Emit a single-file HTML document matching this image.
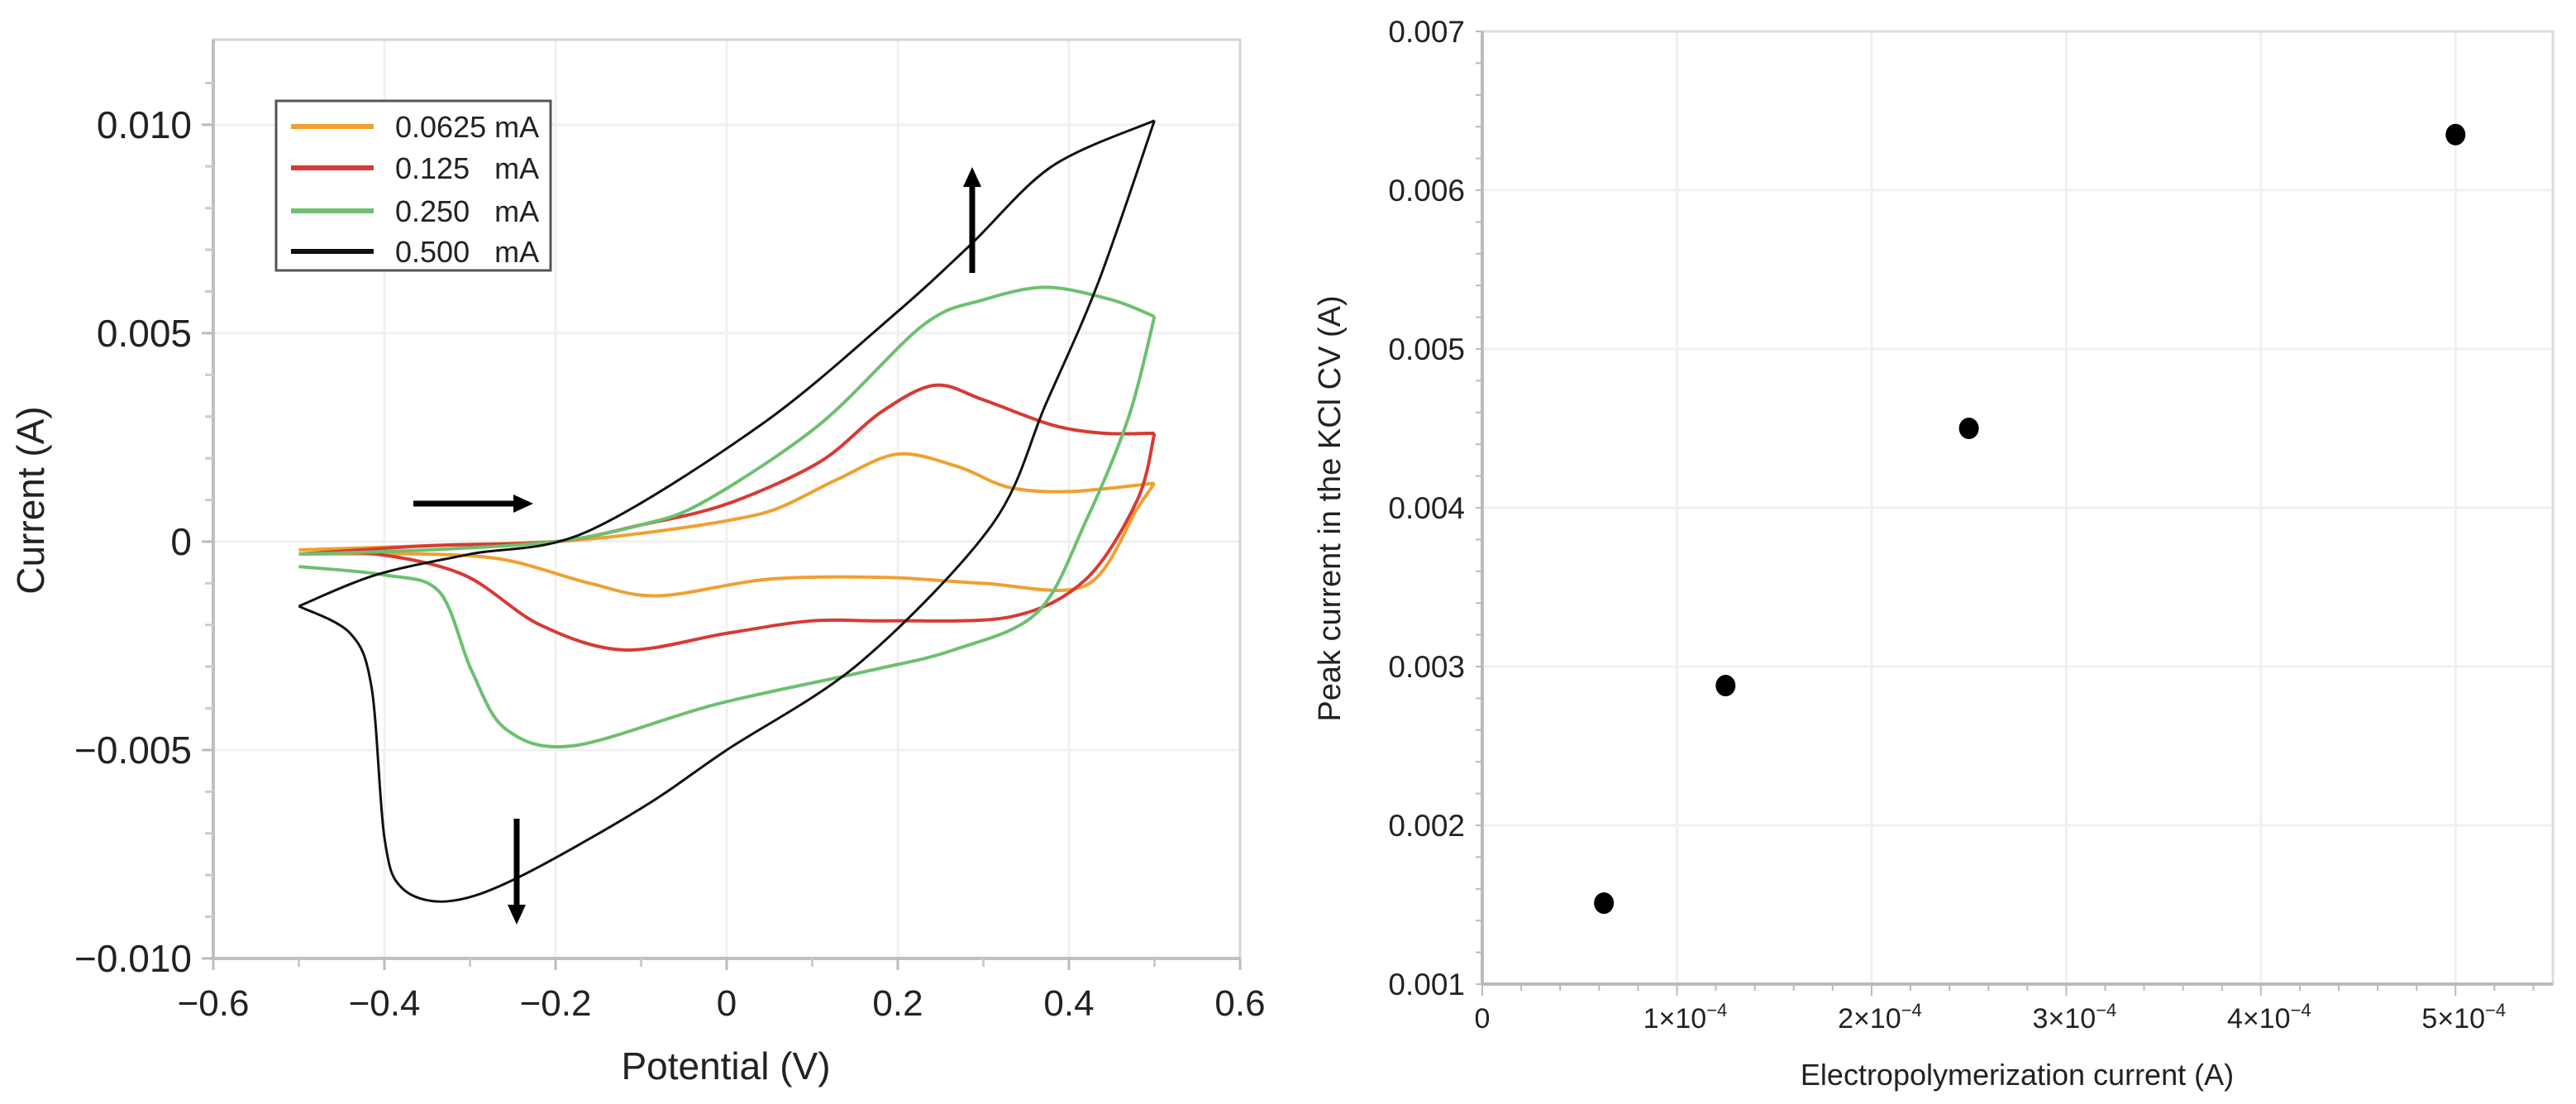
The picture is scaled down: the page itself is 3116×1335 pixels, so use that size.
<!DOCTYPE html>
<html><head><meta charset="utf-8"><style>
html,body{margin:0;padding:0;background:#fff;}
svg{display:block;font-family:"Liberation Sans",Arial,sans-serif;}
</style></head><body>
<svg id="fig" width="3116" height="1335" viewBox="0 0 3116 1335" xmlns="http://www.w3.org/2000/svg">
<g id="left"></g>
<g id="right"></g>
</svg>
<script>
// ---------- Left chart data (Potential V, Current A) ----------
const cvLabels = ["0.0625 mA","0.125   mA","0.250   mA","0.500   mA"];
const cvColors = ["#f0a030","#d83a34","#6cc070","#111111"];
const cvOrangeV = [-0.5,-0.35,-0.2,-0.1,0,0.06,0.13,0.2,0.27,0.33,0.4,0.5,0.48,0.42,0.3,0.186,0.05,-0.08,-0.16,-0.258,-0.35,-0.5];
const cvOrangeI = [-0.0002,-0.0001,0.0,0.0002,0.0005,0.0008,0.0015,0.0021,0.0018,0.0013,0.0012,0.0014,0.0008,-0.00105,-0.0010,-0.00086,-0.0009,-0.0013,-0.001,-0.00044,-0.0003,-0.0003];
const cvRedV = [-0.5,-0.35,-0.2,-0.1,0,0.108,0.18,0.243,0.3,0.38,0.44,0.5,0.48,0.42,0.333,0.19,0.1,0.0,-0.12,-0.218,-0.307,-0.41,-0.5];
const cvRedI = [-0.0003,-0.0001,0.0,0.0004,0.0009,0.0019,0.0031,0.00375,0.0034,0.0028,0.0026,0.0026,0.0010,-0.0009,-0.0018,-0.0019,-0.0019,-0.0022,-0.0026,-0.002,-0.0008,-0.0003,-0.0003];
const cvGreenV = [-0.5,-0.35,-0.2,-0.1,-0.027,0.108,0.23,0.30,0.373,0.45,0.5,0.47,0.42,0.363,0.265,0.166,-0.012,-0.18,-0.258,-0.298,-0.336,-0.40,-0.5];
const cvGreenI = [-0.0003,-0.0002,0.0,0.0004,0.00095,0.0028,0.0052,0.0058,0.0061,0.0058,0.0054,0.0030,0.0005,-0.0017,-0.0026,-0.0031,-0.0039,-0.0049,-0.0045,-0.0031,-0.0012,-0.0008,-0.0006];
const cvBlackV = [-0.5,-0.41,-0.3,-0.163,0.04,0.196,0.284,0.38,0.5,0.434,0.373,0.31,0.156,0.0,-0.1,-0.248,-0.327,-0.38,-0.40,-0.415,-0.44,-0.5];
const cvBlackI = [-0.00155,-0.0008,-0.0003,0.00024,0.0028,0.00545,0.0071,0.009,0.0101,0.0062,0.0033,0.0004,-0.0029,-0.005,-0.0064,-0.0081,-0.00863,-0.0083,-0.0071,-0.0035,-0.0022,-0.00155];
const cvXTicks = [-0.6,-0.4,-0.2,0,0.2,0.4,0.6];
const cvXTickLabels = ["\u22120.6","\u22120.4","\u22120.2","0","0.2","0.4","0.6"];
const cvYTicks = [-0.01,-0.005,0,0.005,0.01];
const cvYTickLabels = ["\u22120.010","\u22120.005","0","0.005","0.010"];

// ---------- Right chart data ----------
const epCurrent = [6.25e-5,1.25e-4,2.5e-4,5e-4];
const peakCurrent = [0.00151,0.00288,0.0045,0.00635];
const rXTicks = [0,1e-4,2e-4,3e-4,4e-4,5e-4];
const rXTickMant = ["0","1","2","3","4","5"];
const rYTicks = [0.001,0.002,0.003,0.004,0.005,0.006,0.007];
const rYTickLabels = ["0.001","0.002","0.003","0.004","0.005","0.006","0.007"];

const NS="http://www.w3.org/2000/svg";
function mk(tag,attrs,parent){const e=document.createElementNS(NS,tag);for(const k in attrs)e.setAttribute(k,attrs[k]);parent.appendChild(e);return e;}

// Left axes
const L={x0:258,x1:1500,y0:48,y1:1159,vmin:-0.6,vmax:0.6,imin:-0.010,imax:0.01204};
function lx(v){return L.x0+(v-L.vmin)/(L.vmax-L.vmin)*(L.x1-L.x0);}
function ly(i){return L.y1-(i-L.imin)/(L.imax-L.imin)*(L.y1-L.y0);}
const gl=document.getElementById('left');
for(let k=0;k<cvXTicks.length;k++){const g=mk('line',{x1:lx(cvXTicks[k]),x2:lx(cvXTicks[k]),y1:L.y0,y2:L.y1,stroke:'#f0f0f0','stroke-width':3},gl);
}
for(let k=0;k<cvYTicks.length;k++){const g=mk('line',{x1:L.x0,x2:L.x1,y1:ly(cvYTicks[k]),y2:ly(cvYTicks[k]),stroke:'#f0f0f0','stroke-width':3},gl);
}
const fr=mk('rect',{x:L.x0,y:L.y0,width:L.x1-L.x0,height:L.y1-L.y0,fill:'none',stroke:'#d4d4d4','stroke-width':3},gl);

const ax1=mk('line',{x1:L.x0,x2:L.x1,y1:L.y1,y2:L.y1,stroke:'#c0c0c0','stroke-width':4},gl);

const ax2=mk('line',{x1:L.x0,x2:L.x0,y1:L.y0,y2:L.y1,stroke:'#c0c0c0','stroke-width':4},gl);

for(let k=0;k<cvXTicks.length;k++){
 const t=mk('text',{x:lx(cvXTicks[k]),y:1228,'text-anchor':'middle','font-size':44,fill:'#222'},gl);t.textContent=cvXTickLabels[k];
 
 const tk=mk('line',{x1:lx(cvXTicks[k]),x2:lx(cvXTicks[k]),y1:L.y1,y2:L.y1+14,stroke:'#bbb','stroke-width':3},gl);
 
 if(k<cvXTicks.length-1){const m=mk('line',{x1:lx(cvXTicks[k]+0.1),x2:lx(cvXTicks[k]+0.1),y1:L.y1,y2:L.y1+10,stroke:'#ccc','stroke-width':3},gl);
 }
}
for(let k=0;k<cvYTicks.length;k++){
 const t=mk('text',{x:232,y:ly(cvYTicks[k])+16,'text-anchor':'end','font-size':46,fill:'#222'},gl);t.textContent=cvYTickLabels[k];
 
 const tk=mk('line',{x1:L.x0-14,x2:L.x0,y1:ly(cvYTicks[k]),y2:ly(cvYTicks[k]),stroke:'#bbb','stroke-width':3},gl);
 
}
for(let v=-0.009;v<0.012;v+=0.001){if(Math.abs(Math.round(v*1000)%5)===0)continue;
 const m=mk('line',{x1:L.x0-10,x2:L.x0,y1:ly(v),y2:ly(v),stroke:'#ccc','stroke-width':3},gl);
 }
const xt=mk('text',{x:878,y:1305,'text-anchor':'middle','font-size':46,fill:'#222'},gl);xt.textContent='Potential (V)';

const yt=mk('text',{x:0,y:0,transform:'translate(53,605) rotate(-90)','text-anchor':'middle','font-size':46,fill:'#222'},gl);yt.textContent='Current (A)';


function smooth(pts){let d='M'+pts[0][0]+','+pts[0][1];
 for(let i=0;i<pts.length-1;i++){const p0=pts[Math.max(0,i-1)],p1=pts[i],p2=pts[i+1],p3=pts[Math.min(pts.length-1,i+2)];
  const t=0.16;const c1=[p1[0]+(p2[0]-p0[0])*t,p1[1]+(p2[1]-p0[1])*t],c2=[p2[0]-(p3[0]-p1[0])*t,p2[1]-(p3[1]-p1[1])*t];
  d+=' C'+c1[0]+','+c1[1]+' '+c2[0]+','+c2[1]+' '+p2[0]+','+p2[1];}
 return d;}
const series=[[cvOrangeV,cvOrangeI],[cvRedV,cvRedI],[cvGreenV,cvGreenI],[cvBlackV,cvBlackI]];
const seriesNames=['cv-curve-0.0625ma','cv-curve-0.125ma','cv-curve-0.250ma','cv-curve-0.500ma'];
for(let s=0;s<series.length;s++){
 const V=series[s][0],I=series[s][1];
 let kmax=0;for(let i=1;i<V.length;i++)if(V[i]>V[kmax])kmax=i;
 const pts=V.map((v,i)=>[lx(v),ly(I[i])]);
 const d=smooth(pts.slice(0,kmax+1))+' '+smooth(pts.slice(kmax));
 const p=mk('path',{d:d,fill:'none',stroke:cvColors[s],'stroke-width':s===3?3:4,'stroke-linejoin':'round'},gl);
 
}
function arrow(x1,y1,x2,y2,name){const g=mk('g',{},gl);
 const dx=x2-x1,dy=y2-y1,len=Math.hypot(dx,dy),ux=dx/len,uy=dy/len;const hl=24,hw=11;
 mk('line',{x1:x1,y1:y1,x2:x2-ux*hl,y2:y2-uy*hl,stroke:'#000','stroke-width':7},g);
 mk('polygon',{points:`${x2},${y2} ${x2-ux*hl-uy*hw},${y2-uy*hl+ux*hw} ${x2-ux*hl+uy*hw},${y2-uy*hl-ux*hw}`,fill:'#000'},g);}
arrow(500,609,645,609,'scan-direction-arrow');
arrow(1176,330,1176,202,'increase-arrow-up');
arrow(625,990,625,1118,'increase-arrow-down');
const lg=mk('g',{},gl);
mk('rect',{x:334,y:122,width:332,height:205,fill:'#fff',stroke:'#555','stroke-width':3},lg);
const rowsY=[153,203,255,304];
for(let k=0;k<4;k++){const e=mk('g',{},lg);
 mk('line',{x1:352,x2:452,y1:rowsY[k],y2:rowsY[k],stroke:cvColors[k],'stroke-width':6},e);
 const t=mk('text',{x:478,y:rowsY[k]+13,'font-size':36,fill:'#222'},e);t.textContent=cvLabels[k];t.style.whiteSpace='pre';}

// Right chart
const R={x0:1793,x1:3088,y0:38,y1:1190,xmin:0,xmax:5.5e-4,ymin:0.001,ymax:0.007};
function rx(v){return R.x0+(v-R.xmin)/(R.xmax-R.xmin)*(R.x1-R.x0);}
function ry(v){return R.y1-(v-R.ymin)/(R.ymax-R.ymin)*(R.y1-R.y0);}
const gr=document.getElementById('right');
for(let k=1;k<rXTicks.length;k++){const g=mk('line',{x1:rx(rXTicks[k]),x2:rx(rXTicks[k]),y1:R.y0,y2:R.y1,stroke:'#f0f0f0','stroke-width':3},gr);
 }
for(let k=1;k<rYTicks.length;k++){const g=mk('line',{x1:R.x0,x2:R.x1,y1:ry(rYTicks[k]),y2:ry(rYTicks[k]),stroke:'#f0f0f0','stroke-width':3},gr);
 }
const rf=mk('rect',{x:R.x0,y:R.y0,width:R.x1-R.x0,height:R.y1-R.y0,fill:'none',stroke:'#dcdcdc','stroke-width':3},gr);

const rax=mk('line',{x1:R.x0,x2:R.x1,y1:R.y1,y2:R.y1,stroke:'#bbb','stroke-width':4},gr);

const ray=mk('line',{x1:R.x0,x2:R.x0,y1:R.y0,y2:R.y1,stroke:'#bbb','stroke-width':4},gr);

for(let v=0;v<=5.5e-4+1e-9;v+=2e-5){const big=Math.abs(Math.round(v/1e-5)%10)===0;
 const m=mk('line',{x1:rx(v),x2:rx(v),y1:R.y1,y2:R.y1+(big?14:8),stroke:'#bbb','stroke-width':2},gr);
 }
for(let v=0.001;v<=0.007+1e-9;v+=0.0002){const m=mk('line',{x1:R.x0-8,x2:R.x0,y1:ry(v),y2:ry(v),stroke:'#bbb','stroke-width':2},gr);
 }
for(let k=0;k<rXTicks.length;k++){
 const t=mk('text',{x:rx(rXTicks[k])+(k?10:0),y:1243,'text-anchor':'middle','font-size':34,fill:'#222'},gr);
 
 if(k===0){t.textContent='0';}else{t.textContent=rXTickMant[k]+'\u00d710';const sp=mk('tspan',{dy:-14,'font-size':22},t);sp.textContent='\u22124';}
}
for(let k=0;k<rYTicks.length;k++){
 const t=mk('text',{x:1772,y:ry(rYTicks[k])+13,'text-anchor':'end','font-size':37,fill:'#222'},gr);t.textContent=rYTickLabels[k];
 }
const rxt=mk('text',{x:2440,y:1312,'text-anchor':'middle','font-size':36,fill:'#222'},gr);rxt.textContent='Electropolymerization current (A)';

const ryt=mk('text',{x:0,y:0,transform:'translate(1621,615) rotate(-90)','text-anchor':'middle','font-size':38,fill:'#222'},gr);ryt.textContent='Peak current in the KCl CV (A)';

for(let k=0;k<epCurrent.length;k++){
 const c=mk('ellipse',{cx:rx(epCurrent[k]),cy:ry(peakCurrent[k]),rx:12,ry:13,fill:'#000'},gr);
 }
</script>
</body></html>
